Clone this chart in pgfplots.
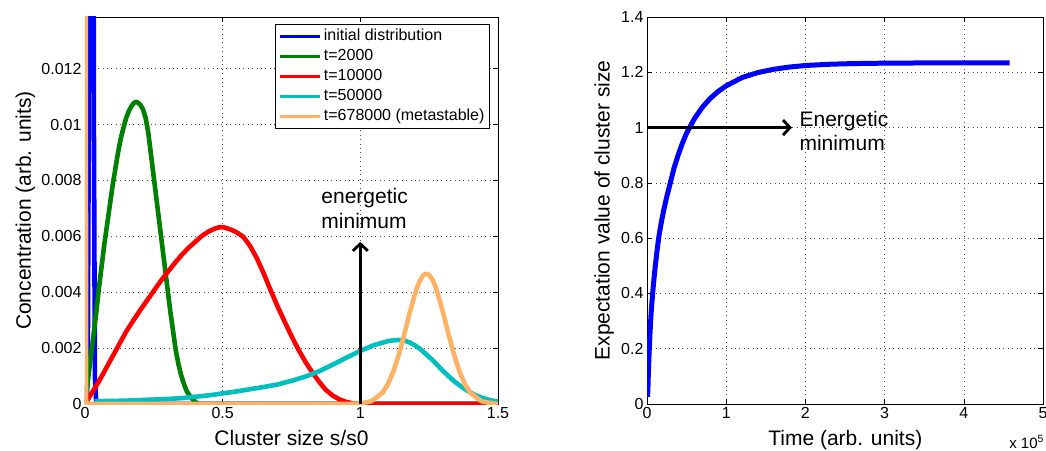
\documentclass[border=0pt]{standalone}
\usepackage{pgfplots}
\pgfplotsset{compat=1.18}
\usetikzlibrary{arrows.meta}
\usepackage{fontspec}
\setmainfont{Liberation Sans}
\definecolor{mblue}{RGB}{0,0,255}
\definecolor{mgreen}{RGB}{0,128,0}
\definecolor{mred}{RGB}{255,0,0}
\definecolor{mcyan}{RGB}{0,191,191}
\definecolor{morange}{RGB}{255,178,102}
\pgfplotsset{
  mystyle/.style={
    scale only axis,
    height=387pt,
    clip mode=individual,
    tick label style={font=\fontsize{16}{19}\selectfont},
    /pgf/number format/assume math mode=true,
    label style={font=\fontsize{21}{25}\selectfont},
    grid=major,
    grid style={black!70, dash pattern=on 0.8pt off 3.6pt, line width=0.6pt},
    axis line style={line width=0.8pt},
    major tick style={black, line width=0.6pt},
    major tick length=5pt,
    tick align=inside,
    every axis plot/.append style={line width=4.6pt, line join=round},
  }
}
\begin{document}
\begin{tikzpicture}
\path[use as bounding box] (-85pt,-46pt) rectangle (961pt,404pt);
\begin{axis}[mystyle, at={(0pt,0pt)}, anchor=south west, width=413pt,
  xmin=0, xmax=1.5, ymin=0, ymax=0.01385,
  xtick={0,0.5,1,1.5}, xticklabels={0,0.5,1,1.5},
  ytick={0,0.002,0.004,0.006,0.008,0.01,0.012},
  yticklabels={0,0.002,0.004,0.006,0.008,0.01,0.012},
  scaled y ticks=false,
  xlabel={Cluster size s/s0},
  ylabel={Concentration (arb. units)},
  xlabel style={at={(axis description cs:0.5,-0.1085)}, anchor=base},
  ylabel style={at={(axis description cs:-0.1308,0.5)}, anchor=base},
  legend style={at={(axis description cs:0.9806,0.9819)}, anchor=north east,
    font=\fontsize{16}{19}\selectfont, draw=black, line width=1pt,
    fill=white, inner xsep=3pt, inner ysep=2pt, row sep=0pt,
    nodes={text height=12pt, text depth=4pt, inner ysep=2pt, inner xsep=2pt}},
  legend cell align=left,
  legend image code/.code={\draw[#1, line width=3.3pt] (0pt,0pt) -- (40pt,0pt);},
]
\addplot[mblue] coordinates {(0,0) (0.005,0.000014) (0.01,0.00097) (0.014,0.0108) (0.017,0.0373) (0.02,0.078) (0.023,0.1) (0.026,0.078) (0.029,0.0373) (0.032,0.0108) (0.036,0.00097) (0.041,0.000014) (0.045,0) (1.5,0)};
\addlegendentry{initial distribution}
\addplot[mgreen] coordinates {(0,0) (0.01,0.0008) (0.02,0.0016) (0.03,0.0024) (0.04,0.0032) (0.05,0.0041) (0.06,0.0049) (0.07,0.0057) (0.08,0.0064) (0.09,0.0071) (0.10,0.0078) (0.11,0.0084) (0.12,0.0090) (0.13,0.0095) (0.14,0.0099) (0.15,0.01025) (0.16,0.0105) (0.17,0.01068) (0.18,0.01079) (0.185,0.01081) (0.19,0.0108) (0.20,0.01072) (0.21,0.01056) (0.22,0.01025) (0.23,0.0097) (0.24,0.0089) (0.25,0.0081) (0.26,0.0073) (0.27,0.0065) (0.28,0.0057) (0.29,0.0049) (0.30,0.0041) (0.31,0.0033) (0.32,0.0026) (0.33,0.0019) (0.34,0.0014) (0.35,0.0010) (0.36,0.0007) (0.37,0.00045) (0.38,0.0003) (0.39,0.00018) (0.40,0.00008) (0.41,0.00002) (0.42,0) (1.5,0)};
\addlegendentry{t=2000}
\addplot[mred] coordinates {(0,0) (0.025,0.0004) (0.05,0.0008) (0.075,0.00125) (0.1,0.0017) (0.125,0.00215) (0.15,0.0026) (0.175,0.00298) (0.2,0.00335) (0.225,0.0037) (0.25,0.00405) (0.275,0.0044) (0.3,0.00472) (0.325,0.00503) (0.35,0.00532) (0.375,0.00558) (0.4,0.0058) (0.425,0.00602) (0.45,0.00618) (0.475,0.00629) (0.49,0.00633) (0.505,0.00632) (0.525,0.00626) (0.55,0.00615) (0.575,0.00598) (0.6,0.00565) (0.625,0.0052) (0.65,0.00465) (0.675,0.00405) (0.7,0.00348) (0.725,0.00295) (0.75,0.00243) (0.775,0.00195) (0.8,0.00152) (0.825,0.00114) (0.85,0.0008) (0.875,0.0005) (0.9,0.0003) (0.925,0.00016) (0.95,0.00007) (0.975,0.00002) (1.0,0) (1.5,0)};
\addlegendentry{t=10000}
\addplot[mcyan] coordinates {(0.035,0.0001) (0.1,0.00011) (0.15,0.00012) (0.2,0.00014) (0.25,0.00016) (0.3,0.00018) (0.35,0.00021) (0.4,0.00026) (0.45,0.00031) (0.5,0.00038) (0.55,0.00045) (0.6,0.00053) (0.65,0.00061) (0.7,0.0007) (0.75,0.00083) (0.8,0.00098) (0.85,0.00117) (0.9,0.00141) (0.95,0.00166) (1.0,0.0019) (1.05,0.00211) (1.1,0.00225) (1.12,0.00228) (1.14,0.00229) (1.16,0.00227) (1.18,0.0022) (1.2,0.00209) (1.22,0.00195) (1.24,0.00177) (1.26,0.00159) (1.28,0.00139) (1.3,0.00119) (1.32,0.001) (1.34,0.00082) (1.36,0.00067) (1.38,0.00053) (1.4,0.00041) (1.42,0.00031) (1.44,0.00023) (1.46,0.00017) (1.48,0.00012) (1.5,0.000085)};
\addlegendentry{t=50000}
\addplot[morange] coordinates {(0,0.05) (0.004,0) (0.95,0) (1.0,0.000018) (1.04,0.0000983) (1.08,0.000395) (1.1,0.000704) (1.12,0.00116) (1.14,0.00178) (1.16,0.00251) (1.18,0.00329) (1.2,0.00399) (1.21,0.00427) (1.22,0.00448) (1.23,0.00462) (1.24,0.00466) (1.25,0.00462) (1.26,0.00448) (1.27,0.00427) (1.28,0.00399) (1.3,0.00329) (1.32,0.00251) (1.34,0.00178) (1.36,0.00116) (1.38,0.000704) (1.4,0.000395) (1.44,0.0000983) (1.48,0.000018) (1.5,0)};
\addlegendentry{t=678000 (metastable)}
\draw[line width=3.6pt, -{Straight Barb[length=7pt,width=15pt,line width=2.8pt]}] (axis cs:1.0,0) -- (axis cs:1.0,0.0058);
\node[anchor=base west, inner sep=0pt, font=\fontsize{21}{25}\selectfont] at (axis cs:0.858,0.00717) {energetic};
\node[anchor=base west, inner sep=0pt, font=\fontsize{21}{25}\selectfont] at (axis cs:0.858,0.00627) {minimum};
\end{axis}
\begin{axis}[mystyle, at={(562pt,0pt)}, anchor=south west, width=396pt,
  xmin=0, xmax=5, ymin=0, ymax=1.4,
  xtick={0,1,2,3,4,5}, xticklabels={0,1,2,3,4,5},
  ytick={0,0.2,0.4,0.6,0.8,1,1.2,1.4},
  yticklabels={0,0.2,0.4,0.6,0.8,1,1.2,1.4},
  xlabel={Time (arb. units)},
  ylabel={Expectation value of cluster size},
  xlabel style={at={(axis description cs:0.5008,-0.1075)}, anchor=base},
  ylabel style={at={(axis description cs:-0.0944,0.5)}, anchor=base},
]
\addplot[mblue, line width=5pt] coordinates {(0.008,0.026) (0.012,0.06) (0.016,0.1) (0.022,0.15) (0.029,0.2) (0.037,0.25) (0.046,0.3) (0.057,0.35) (0.071,0.4) (0.087,0.45) (0.105,0.5) (0.125,0.55) (0.147,0.6) (0.176,0.65) (0.21,0.7) (0.25,0.75) (0.294,0.8) (0.34,0.852) (0.39,0.898) (0.445,0.942) (0.5,0.98) (0.6,1.033) (0.7,1.074) (0.8,1.106) (0.9,1.131) (1.0,1.151) (1.2,1.181) (1.4,1.199) (1.6,1.211) (1.8,1.219) (2.0,1.2245) (2.3,1.229) (2.6,1.2315) (3.0,1.233) (3.5,1.2338) (4.0,1.234) (4.58,1.234)};
\draw[line width=3.8pt, -{Straight Barb[length=7pt,width=15pt,line width=2.8pt]}] (axis cs:0,1.0) -- (axis cs:1.83,1.0);
\node[anchor=base west, inner sep=0pt, font=\fontsize{21}{25}\selectfont] at (axis cs:1.924,1.004) {Energetic};
\node[anchor=base west, inner sep=0pt, font=\fontsize{21}{25}\selectfont] at (axis cs:1.924,0.917) {minimum};
\node[anchor=base east, inner sep=0pt, font=\fontsize{15}{17}\selectfont] at (axis description cs:1.003,-0.114) {x 10\textsuperscript{5}};
\end{axis}
\end{tikzpicture}
\end{document}
